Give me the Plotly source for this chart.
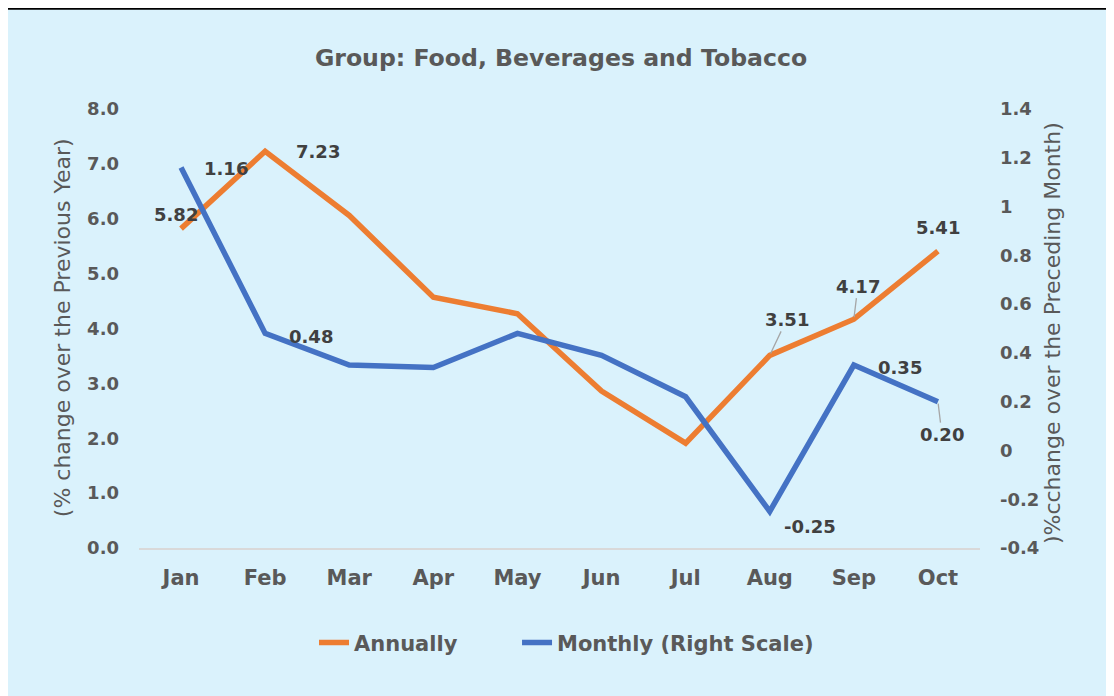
import plotly.graph_objects as go

# datos
meses = ["Jan", "Feb", "Mar", "Apr", "May", "Jun", "Jul", "Aug", "Sep", "Oct"]
anual = [5.82, 7.23, 6.06, 4.57, 4.27, 2.86, 1.91, 3.51, 4.17, 5.41]
mensual = [1.16, 0.48, 0.35, 0.34, 0.48, 0.39, 0.22, -0.25, 0.35, 0.20]

ticks_izq = [0, 1, 2, 3, 4, 5, 6, 7, 8]
ticks_der = [-0.4, -0.2, 0, 0.2, 0.4, 0.6, 0.8, 1, 1.2, 1.4]
ticks_der_txt = ["-0.4", "-0.2", "0", "0.2", "0.4", "0.6", "0.8", "1", "1.2", "1.4"]

# puntos con etiqueta: (indice, desplazamiento x, desplazamiento y, linea guia)
etiquetas_anual = [(0, -5, -14, False), (1, 53, 0, False), (7, 17, -36, True),
                   (8, 4, -33, True), (9, 0, -24, False)]
etiquetas_mensual = [(0, 45, 1, False), (1, 46, 3, False), (7, 40, 15, False),
                     (8, 46, 2, False), (9, 4, 33, True)]

NARANJA = "#ED7D31"
AZUL = "#4472C4"
GRIS = "#595959"
FONDO = "#DAF2FC"
FUENTE = "DejaVu Sans"

fig = go.Figure()
fig.add_trace(go.Scatter(x=meses, y=anual, name="<b>Annually</b>", mode="lines",
                         line=dict(color=NARANJA, width=5.5), legend="legend"))
fig.add_trace(go.Scatter(x=meses, y=mensual, name="<b>Monthly (Right Scale)</b>", mode="lines",
                         line=dict(color=AZUL, width=5.5), yaxis="y2", legend="legend2"))


def etiquetar(valores, lista, yref, fmt):
    for i, dx, dy, guia in lista:
        fig.add_annotation(x=meses[i], y=valores[i], xref="x", yref=yref,
                           text="<b>" + fmt.format(valores[i]) + "</b>",
                           showarrow=True, ax=dx, ay=dy, axref="pixel", ayref="pixel",
                           arrowhead=0, arrowwidth=1.3, standoff=2,
                           arrowcolor="#A6A6A6" if guia else "rgba(0,0,0,0)",
                           font=dict(family=FUENTE, size=18, color="#404040"))


etiquetar(anual, etiquetas_anual, "y", "{:.2f}")
etiquetar(mensual, etiquetas_mensual, "y2", "{:.2f}")

# titulos de ejes
fig.add_annotation(text="(% change over the Previous Year)", xref="paper", yref="paper",
                   x=-0.0916, y=0.503, textangle=-90, showarrow=False,
                   xanchor="center", yanchor="middle",
                   font=dict(family=FUENTE, size=22, color=GRIS))
fig.add_annotation(text=")%cchange over the Preceding Month)", xref="paper", yref="paper",
                   x=1.087, y=0.49, textangle=-90, showarrow=False,
                   xanchor="center", yanchor="middle",
                   font=dict(family=FUENTE, size=22, color=GRIS))

# linea negra arriba
fig.add_shape(type="rect", xref="paper", yref="paper", x0=-0.2, x1=1.2, y0=1.226, y1=1.24,
              fillcolor="black", line_width=0, layer="below")

leyenda = dict(orientation="h", xanchor="left", y=-0.216, yanchor="middle",
               bgcolor="rgba(0,0,0,0)", font=dict(family=FUENTE, size=21, color=GRIS))

fig.update_layout(
    width=1106, height=688,
    margin=dict(l=131, r=134, t=101, b=148),
    paper_bgcolor=FONDO, plot_bgcolor=FONDO,
    title=dict(text="<b>Group: Food, Beverages and Tobacco</b>", x=0.5, xanchor="center",
               y=1 - 50 / 688, yanchor="middle",
               font=dict(family=FUENTE, size=23.6, color=GRIS)),
    font=dict(family=FUENTE, size=18, color=GRIS),
    showlegend=True,
    legend=dict(leyenda, x=0.2081),
    legend2=dict(leyenda, x=0.4495),
    xaxis=dict(range=[-0.5, 9.5], showgrid=False, showline=True, linecolor="#D9D9D9",
               linewidth=2, ticks="", ticklabelstandoff=10, zeroline=False,
               tickfont=dict(family=FUENTE, size=21, color=GRIS, weight="bold")),
    yaxis=dict(range=[0, 8], tickvals=ticks_izq, tickformat=".1f", showgrid=False,
               zeroline=False, ticklabelstandoff=19,
               tickfont=dict(family=FUENTE, size=18, color=GRIS, weight="bold")),
    yaxis2=dict(range=[-0.4, 1.4], tickvals=ticks_der, ticktext=ticks_der_txt, overlaying="y",
                side="right", showgrid=False, zeroline=False, ticklabelstandoff=19,
                tickfont=dict(family=FUENTE, size=18, color=GRIS, weight="bold")),
)

fig.write_html("out.html")
